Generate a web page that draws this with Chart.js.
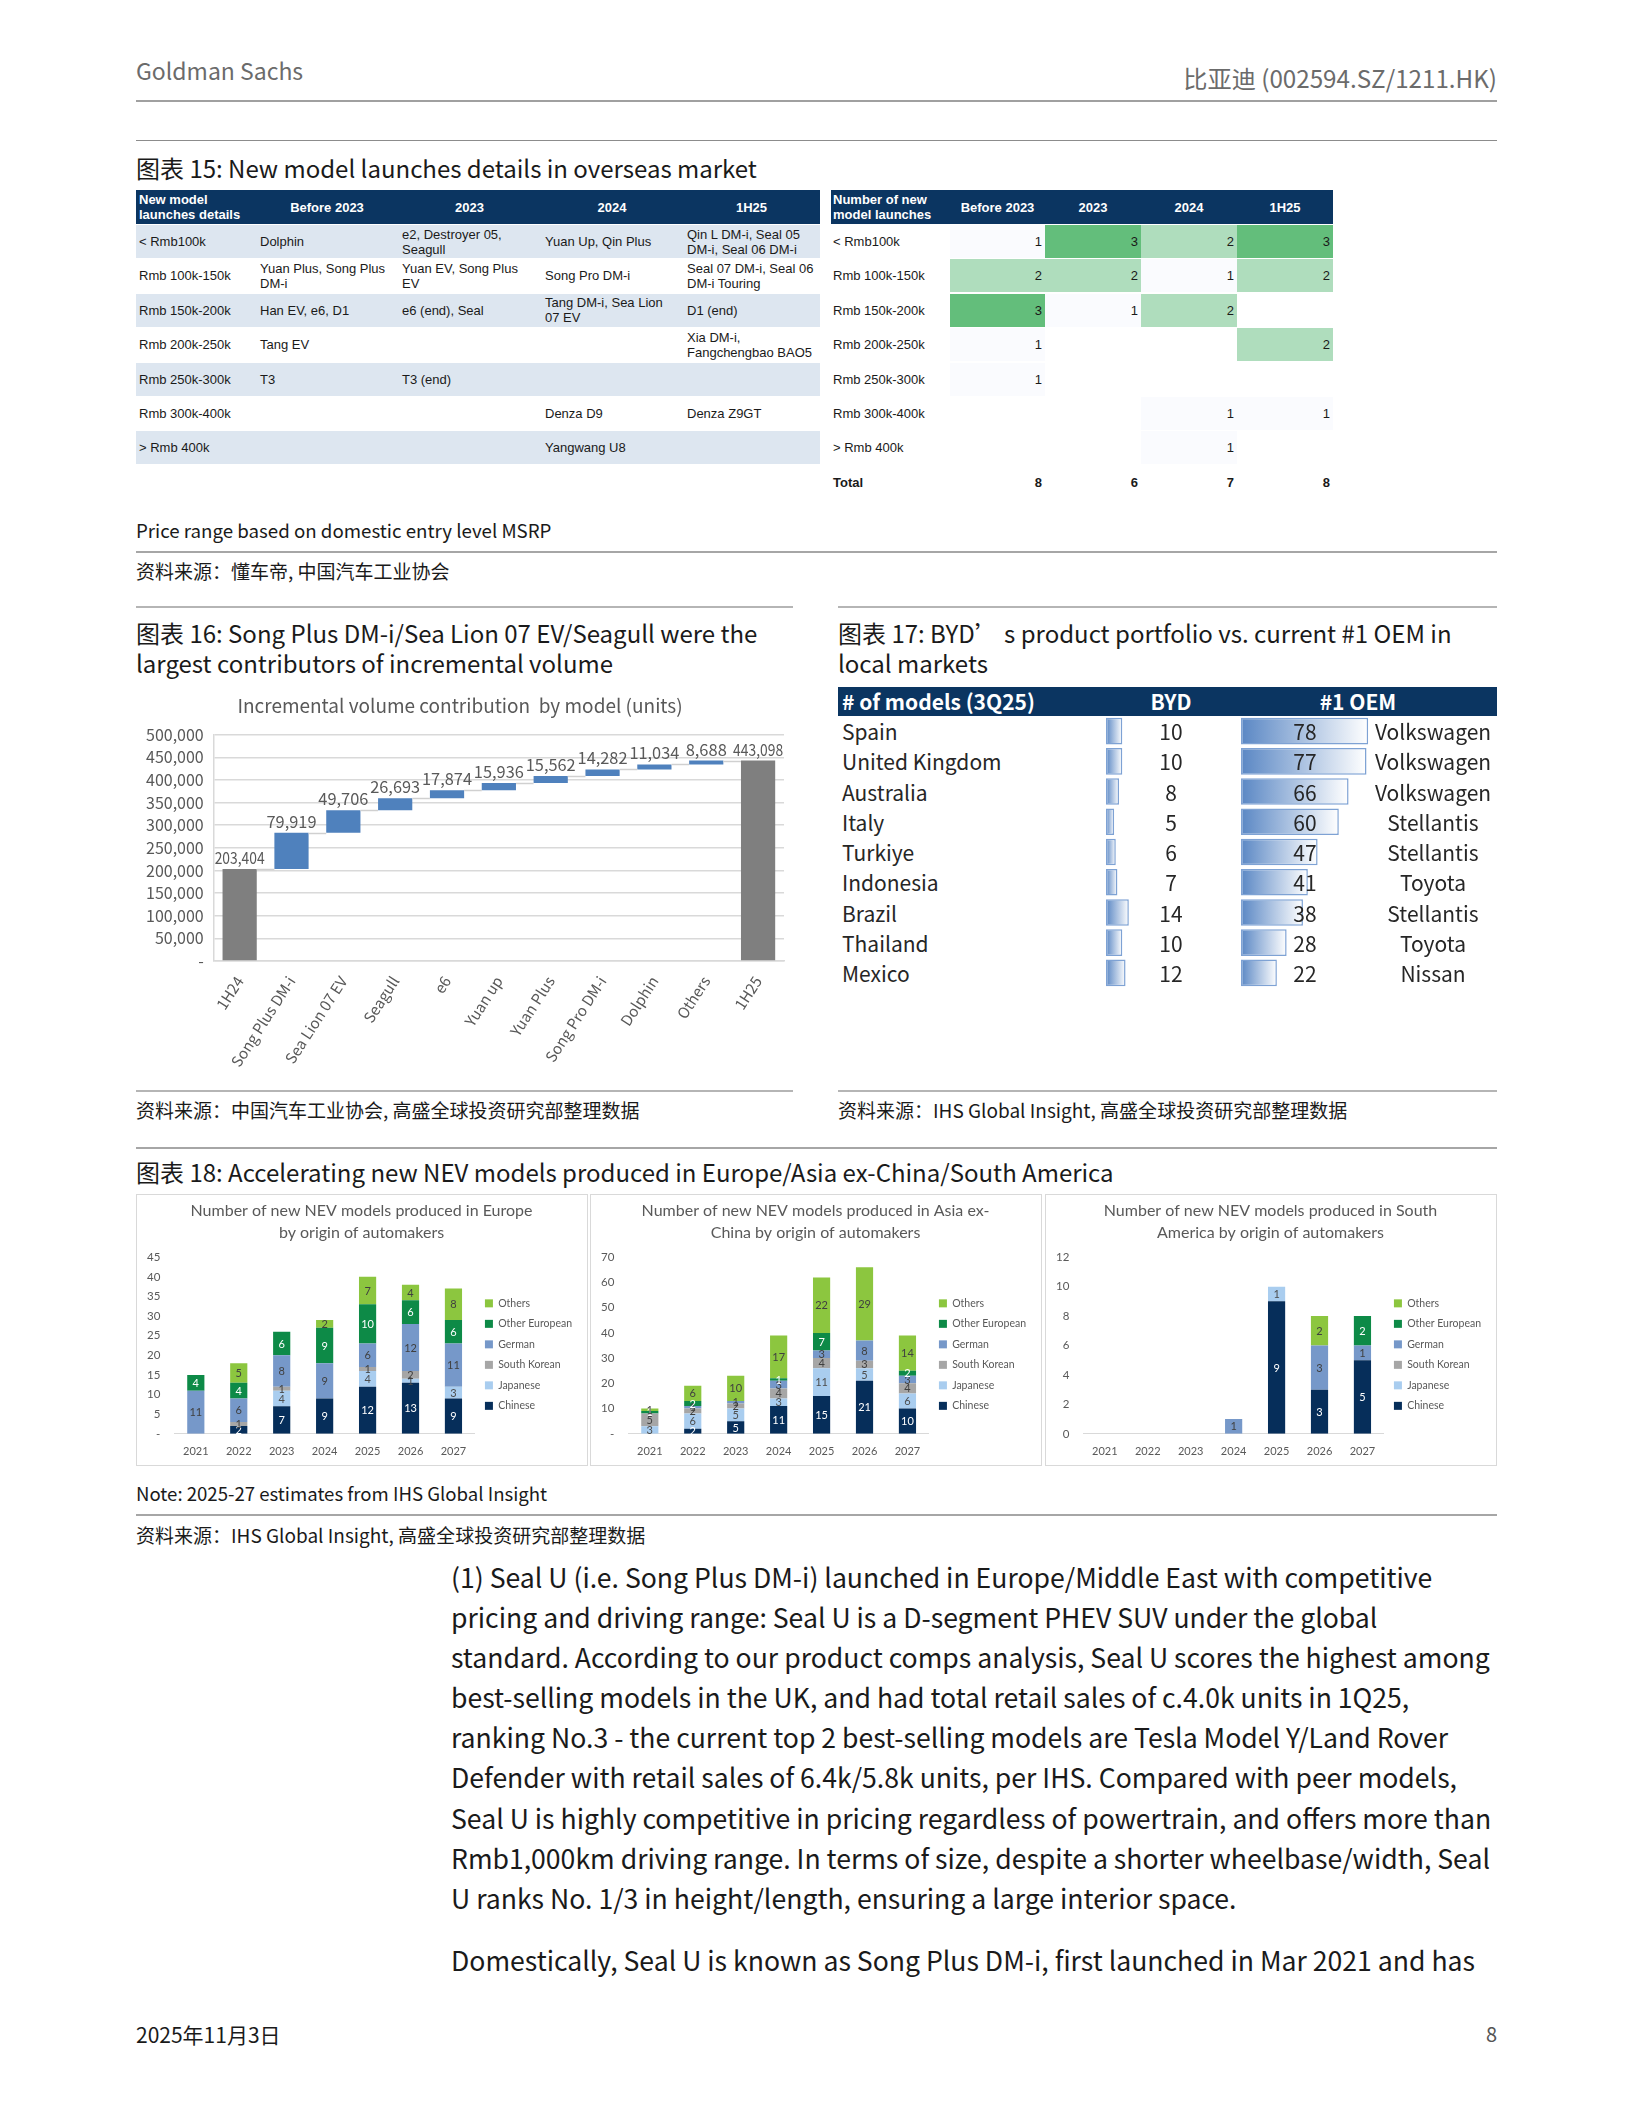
<!DOCTYPE html>
<html lang="zh">
<head>
<meta charset="utf-8">
<title>比亚迪 (002594.SZ/1211.HK) - 图表 15-18</title>
<script src="https://cdn.jsdelivr.net/npm/chart.js@4.4.1/dist/chart.umd.min.js"></script>
<style>
  body { margin:0; width:1632px; height:2112px; position:relative; background:#fff; overflow:hidden;
         font-family:'Noto Sans CJK SC','Noto Sans',sans-serif; color:#1a1a1a; }
  .t { position:absolute; white-space:nowrap; z-index:2; }
  .rule { position:absolute; height:0; }
  .cell { position:absolute; box-sizing:border-box; display:flex; align-items:center; white-space:pre;
          font-family:'Liberation Sans Narrow','Liberation Sans',Arial,sans-serif; font-size:13px; line-height:15px;
          padding:0 4px; color:#1a1a1a; }
  .panel { position:absolute; border:1px solid #d9d9d9; box-sizing:border-box; background:#fff; }
  canvas { display:block; }
  .abs { position:absolute; }
</style>
</head>
<body>

<!-- page header -->
<div class="t" style="left:136px;top:52px;font-size:23px;line-height:36px;color:#6b6b6b">Goldman Sachs</div>
<div class="t" style="right:135px;top:60px;font-size:24.2px;line-height:36px;color:#6b6b6b">比亚迪 (002594.SZ/1211.HK)</div>
<div class="rule" style="left:136px;top:100px;width:1361px;border-top:2px solid #a0a0a0"></div>
<div class="rule" style="left:136px;top:140px;width:1361px;border-top:1.5px solid #8c8c8c"></div>

<div class="t" style="left:136px;top:151px;font-size:24px;line-height:34px">图表 15: New model launches details in overseas market</div>
<div id="tblDetails" class="abs" style="left:0;top:0"></div>
<div id="tblCounts" class="abs" style="left:0;top:0"></div>
<div class="t" style="left:136px;top:515px;font-size:18.7px;line-height:30px">Price range based on domestic entry level MSRP</div>
<div class="rule" style="left:136px;top:551px;width:1361px;border-top:2px solid #a6a6a6"></div>
<div class="t" style="left:136px;top:556px;font-size:19px;line-height:30px">资料来源：懂车帝, 中国汽车工业协会</div>
<div class="rule" style="left:136px;top:606px;width:657px;border-top:2px solid #b5b5b5"></div>
<div class="rule" style="left:838px;top:606px;width:659px;border-top:2px solid #b5b5b5"></div>

<!-- 图表 16 -->
<div class="t" style="left:136px;top:618px;font-size:24px;line-height:30px">图表 16: Song Plus DM-i/Sea Lion 07 EV/Seagull were the</div>
<div class="t" style="left:136px;top:648px;font-size:24px;line-height:30px">largest contributors of incremental volume</div>
<div class="abs" style="left:136px;top:690px;width:660px;height:384px"><canvas id="waterfall"></canvas></div>

<!-- 图表 17 -->
<div class="t" style="left:838px;top:618px;font-size:24px;line-height:30px">图表 17: BYD’ s product portfolio vs. current #1 OEM in</div>
<div class="t" style="left:838px;top:648px;font-size:24px;line-height:30px">local markets</div>
<div class="abs" style="left:838px;top:687px;width:659px;height:29px;background:#0b3561"></div>
<div class="t" style="left:842px;top:686px;font-size:21px;line-height:30px;color:#fff;font-weight:bold"># of models (3Q25)</div>
<div class="t" style="left:1121px;width:100px;text-align:center;top:686px;font-size:21px;line-height:30px;color:#fff;font-weight:bold">BYD</div>
<div class="t" style="left:1298px;width:120px;text-align:center;top:686px;font-size:21px;line-height:30px;color:#fff;font-weight:bold">#1 OEM</div>
<div class="abs" style="left:1106px;top:716px;width:50px;height:272px"><canvas id="bydBars"></canvas></div>
<div class="abs" style="left:1241px;top:716px;width:140px;height:272px"><canvas id="oemBars"></canvas></div>
<div id="oemRows" class="abs" style="left:0;top:0"></div>

<div class="rule" style="left:136px;top:1090px;width:657px;border-top:2px solid #b5b5b5"></div>
<div class="rule" style="left:838px;top:1090px;width:659px;border-top:2px solid #b5b5b5"></div>
<div class="t" style="left:136px;top:1095px;font-size:19px;line-height:30px">资料来源：中国汽车工业协会, 高盛全球投资研究部整理数据</div>
<div class="t" style="left:838px;top:1095px;font-size:19px;line-height:30px">资料来源：IHS Global Insight, 高盛全球投资研究部整理数据</div>
<div class="rule" style="left:136px;top:1147px;width:1361px;border-top:2px solid #a6a6a6"></div>

<!-- 图表 18 -->
<div class="t" style="left:136px;top:1156px;font-size:24px;line-height:32px">图表 18: Accelerating new NEV models produced in Europe/Asia ex-China/South America</div>
<div class="panel" style="left:136px;top:1194px;width:452px;height:272px"><canvas id="nevEurope"></canvas></div>
<div class="panel" style="left:590px;top:1194px;width:452px;height:272px"><canvas id="nevAsia"></canvas></div>
<div class="panel" style="left:1045px;top:1194px;width:452px;height:272px"><canvas id="nevSouthAmerica"></canvas></div>
<div class="t" style="left:136px;top:1478px;font-size:18.6px;line-height:30px">Note: 2025-27 estimates from IHS Global Insight</div>
<div class="rule" style="left:136px;top:1514px;width:1361px;border-top:2px solid #a6a6a6"></div>
<div class="t" style="left:136px;top:1520px;font-size:19px;line-height:30px">资料来源：IHS Global Insight, 高盛全球投资研究部整理数据</div>

<!-- body text -->
<div class="t" style="left:451px;top:1557px;font-size:26.6px;line-height:40.1px;color:#1a1a1a">(1) Seal U (i.e. Song Plus DM-i) launched in Europe/Middle East with competitive<br>pricing and driving range: Seal U is a D-segment PHEV SUV under the global<br>standard. According to our product comps analysis, Seal U scores the highest among<br>best-selling models in the UK, and had total retail sales of c.4.0k units in 1Q25,<br>ranking No.3 - the current top 2 best-selling models are Tesla Model Y/Land Rover<br>Defender with retail sales of 6.4k/5.8k units, per IHS. Compared with peer models,<br>Seal U is highly competitive in pricing regardless of powertrain, and offers more than<br>Rmb1,000km driving range. In terms of size, despite a shorter wheelbase/width, Seal<br>U ranks No. 1/3 in height/length, ensuring a large interior space.</div>
<div class="t" style="left:451px;top:1940px;font-size:26.6px;line-height:40px;color:#1a1a1a">Domestically, Seal U is known as Song Plus DM-i, first launched in Mar 2021 and has</div>

<div class="t" style="left:136px;top:2019px;font-size:21px;line-height:30px">2025年11月3日</div>
<div class="t" style="right:135px;top:2019px;font-size:20px;line-height:30px;color:#555">8</div>

<script>
// ---------- 图表 15 data ----------
const priceBands = ['< Rmb100k', 'Rmb 100k-150k', 'Rmb 150k-200k', 'Rmb 200k-250k', 'Rmb 250k-300k', 'Rmb 300k-400k', '> Rmb 400k'];
const periods = ['Before 2023', '2023', '2024', '1H25'];
const launchesBefore2023 = ['Dolphin', 'Yuan Plus, Song Plus\nDM-i', 'Han EV, e6, D1', 'Tang EV', 'T3', '', ''];
const launches2023 = ['e2, Destroyer 05,\nSeagull', 'Yuan EV, Song Plus\nEV', 'e6 (end), Seal', '', 'T3 (end)', '', ''];
const launches2024 = ['Yuan Up, Qin Plus', 'Song Pro DM-i', 'Tang DM-i, Sea Lion\n07 EV', '', '', 'Denza D9', 'Yangwang U8'];
const launches1H25 = ['Qin L DM-i, Seal 05\nDM-i, Seal 06 DM-i', 'Seal 07 DM-i, Seal 06\nDM-i Touring', 'D1 (end)', 'Xia DM-i,\nFangchengbao BAO5', '', 'Denza Z9GT', ''];
const countsBefore2023 = [1, 2, 3, 1, 1, null, null];
const counts2023 = [3, 2, 1, null, null, null, null];
const counts2024 = [2, 1, 2, null, null, 1, 1];
const counts1H25 = [3, 2, null, 2, null, 1, null];

// ---------- 图表 16 data ----------
const waterfallLabels = ['1H24', 'Song Plus DM-i', 'Sea Lion 07 EV', 'Seagull', 'e6', 'Yuan up', 'Yuan Plus', 'Song Pro DM-i', 'Dolphin', 'Others', '1H25'];
const waterfallValues = [203404, 79919, 49706, 26693, 17874, 15936, 15562, 14282, 11034, 8688, 443098];
const waterfallTotals = [true, false, false, false, false, false, false, false, false, false, true];

// ---------- 图表 17 data ----------
const markets = ['Spain', 'United Kingdom', 'Australia', 'Italy', 'Turkiye', 'Indonesia', 'Brazil', 'Thailand', 'Mexico'];
const bydModels = [10, 10, 8, 5, 6, 7, 14, 10, 12];
const topOemModels = [78, 77, 66, 60, 47, 41, 38, 28, 22];
const topOems = ['Volkswagen', 'Volkswagen', 'Volkswagen', 'Stellantis', 'Stellantis', 'Toyota', 'Stellantis', 'Toyota', 'Nissan'];

// ---------- 图表 18 data ----------
const years = ['2021', '2022', '2023', '2024', '2025', '2026', '2027'];
const origins = ['Chinese', 'Japanese', 'South Korean', 'German', 'Other European', 'Others'];
const europeChinese = [0, 2, 7, 9, 12, 13, 9];
const europeJapanese = [0, 0, 4, 0, 4, 1, 3];
const europeKorean = [0, 1, 1, 0, 1, 2, 0];
const europeGerman = [11, 6, 8, 9, 6, 12, 11];
const europeOtherEuropean = [4, 4, 6, 9, 10, 6, 6];
const europeOthers = [0, 5, 0, 2, 7, 4, 8];
const asiaChinese = [0, 2, 5, 11, 15, 21, 10];
const asiaJapanese = [3, 6, 5, 3, 11, 5, 6];
const asiaKorean = [5, 2, 2, 4, 4, 3, 4];
const asiaGerman = [0, 1, 1, 3, 3, 8, 3];
const asiaOtherEuropean = [1, 2, 0, 1, 7, 0, 2];
const asiaOthers = [1, 6, 10, 17, 22, 29, 14];
const samChinese = [0, 0, 0, 0, 9, 3, 5];
const samJapanese = [0, 0, 0, 0, 1, 0, 0];
const samKorean = [0, 0, 0, 0, 0, 0, 0];
const samGerman = [0, 0, 0, 1, 0, 3, 1];
const samOtherEuropean = [0, 0, 0, 0, 0, 0, 2];
const samOthers = [0, 0, 0, 0, 0, 2, 0];

const originColors = ['#062e5a', '#a9cdef', '#a6a6a6', '#7698c9', '#0d8a47', '#8cc63f'];
const originTextColors = ['#ffffff', '#4d4d4d', '#404040', '#404040', '#ffffff', '#404040'];

// ---------- helpers ----------
function addCell(parent, x, y, w, h, text, style) {
    const d = document.createElement('div');
    d.className = 'cell';
    Object.assign(d.style, { left: x + 'px', top: y + 'px', width: w + 'px', height: h + 'px' }, style || {});
    d.textContent = text;
    parent.appendChild(d);
    return d;
}

// 图表 15 left table
(function () {
    const box = document.getElementById('tblDetails');
    const cols = [136, 256, 398, 541, 683, 820];
    const navy = '#0b3561';
    addCell(box, cols[0], 190, cols[5] - cols[0], 34, '', { background: navy });
    addCell(box, cols[0], 190, cols[1] - cols[0], 34, 'New model\nlaunches details', { color: '#fff', fontWeight: 'bold', paddingLeft: '3px' });
    periods.forEach((p, i) => addCell(box, cols[i + 1], 190, cols[i + 2] - cols[i + 1], 34, p,
        { color: '#fff', fontWeight: 'bold', justifyContent: 'center' }));
    const columns = [launchesBefore2023, launches2023, launches2024, launches1H25];
    priceBands.forEach((band, r) => {
        const y = 225 + r * 34.4;
        const bg = r % 2 === 0 ? '#dde6f0' : '#ffffff';
        addCell(box, cols[0], y, cols[5] - cols[0], 33, '', { background: bg });
        addCell(box, cols[0], y, cols[1] - cols[0], 33, band, { paddingLeft: '3px' });
        columns.forEach((col, c) => addCell(box, cols[c + 1], y, cols[c + 2] - cols[c + 1], 33, col[r]));
    });
})();

// 图表 15 right heat table
(function () {
    const box = document.getElementById('tblCounts');
    const cols = [831, 950, 1045, 1141, 1237, 1333];
    const navy = '#0b3561';
    addCell(box, cols[0], 190, cols[5] - cols[0], 34, '', { background: navy });
    addCell(box, cols[0], 190, cols[1] - cols[0], 34, 'Number of new\nmodel launches', { color: '#fff', fontWeight: 'bold', paddingLeft: '2px' });
    periods.forEach((p, i) => addCell(box, cols[i + 1], 190, cols[i + 2] - cols[i + 1], 34, p,
        { color: '#fff', fontWeight: 'bold', justifyContent: 'center' }));
    const columns = [countsBefore2023, counts2023, counts2024, counts1H25];
    const lo = [250, 251, 254], hi = [99, 190, 123];
    function heat(v) {
        if (v == null) return '#ffffff';
        const t = (v - 1) / 2;
        return 'rgb(' + lo.map((a, k) => Math.round(a + (hi[k] - a) * t)).join(',') + ')';
    }
    priceBands.forEach((band, r) => {
        const y = 225 + r * 34.4;
        addCell(box, cols[0], y, cols[1] - cols[0], 33, band, { paddingLeft: '2px' });
        columns.forEach((col, c) => addCell(box, cols[c + 1], y, cols[c + 2] - cols[c + 1], 33,
            col[r] == null ? '' : String(col[r]), { background: heat(col[r]), justifyContent: 'flex-end', paddingRight: '3px' }));
    });
    const yT = 225 + 7 * 34.4;
    addCell(box, cols[0], yT, cols[1] - cols[0], 33, 'Total', { fontWeight: 'bold', paddingLeft: '2px' });
    columns.forEach((col, c) => {
        const total = col.reduce((s, v) => s + (v || 0), 0);
        addCell(box, cols[c + 1], yT, cols[c + 2] - cols[c + 1], 33, String(total),
            { fontWeight: 'bold', justifyContent: 'flex-end', paddingRight: '3px' });
    });
})();

// 图表 17 row texts
(function () {
    const box = document.getElementById('oemRows');
    markets.forEach((m, i) => {
        const yc = 731 + i * 30.25;
        const mk = (html, css) => {
            const d = document.createElement('div');
            d.className = 't';
            d.style.cssText = 'top:' + (yc - 15) + 'px;font-size:21px;line-height:30px;color:#262626;' + css;
            d.textContent = html;
            box.appendChild(d);
        };
        mk(m, 'left:842px;');
        mk(String(bydModels[i]), 'left:1131px;width:80px;text-align:center;');
        mk(String(topOemModels[i]), 'left:1265px;width:80px;text-align:center;');
        mk(topOems[i], 'left:1373px;width:120px;text-align:center;');
    });
})();

Chart.defaults.animation = false;
Chart.defaults.responsive = true;
Chart.defaults.maintainAspectRatio = false;

// ---------- 图表 16 waterfall ----------
const floating = [];
const levels = [];
let running = 0;
waterfallValues.forEach((v, i) => {
    if (waterfallTotals[i]) { floating.push([0, v]); running = v; }
    else { floating.push([running, running + v]); running += v; }
    levels.push(running);
});

const waterfallExtras = {
    id: 'waterfallExtras',
    afterDatasetsDraw(chart) {
        const c = chart.ctx;
        const meta = chart.getDatasetMeta(0);
        const ys = chart.scales.y;
        c.save();
        c.strokeStyle = '#d0d0d0';
        c.lineWidth = 1.5;
        for (let i = 0; i < meta.data.length - 1; i++) {
            const a = meta.data[i], b = meta.data[i + 1];
            const y = Math.round(ys.getPixelForValue(levels[i])) + 0.5;
            c.beginPath();
            c.moveTo(a.x + a.width / 2, y);
            c.lineTo(b.x - b.width / 2, y);
            c.stroke();
        }
        c.fillStyle = '#595959';
        c.font = "16.5px 'Noto Sans CJK SC', 'Noto Sans', sans-serif";
        c.textAlign = 'center';
        c.textBaseline = 'bottom';
        meta.data.forEach((el, i) => {
            const top = Math.min(el.y, el.base);
            c.fillText(waterfallValues[i].toLocaleString('en-US'), el.x, top - 3, 50);
        });
        c.restore();
    }
};

new Chart(document.getElementById('waterfall'), {
    type: 'bar',
    data: {
        labels: waterfallLabels,
        datasets: [{
            data: floating,
            backgroundColor: waterfallTotals.map(t => t ? '#7f7f7f' : '#4f81bd'),
            borderWidth: 0,
            barPercentage: 0.66,
            categoryPercentage: 1
        }]
    },
    options: {
        layout: { padding: { left: 0, right: 12, top: 0, bottom: 0 } },
        plugins: {
            legend: { display: false },
            tooltip: { enabled: false },
            title: {
                display: true,
                text: 'Incremental volume contribution  by model (units)',
                color: '#595959',
                font: { family: "'Noto Sans CJK SC', 'Noto Sans', sans-serif", size: 19, weight: 'normal' },
                padding: { top: 4, bottom: 18 }
            }
        },
        scales: {
            x: {
                grid: { display: false },
                border: { color: '#d9d9d9', width: 1.5 },
                ticks: {
                    color: '#595959', minRotation: 57, maxRotation: 57, padding: 4,
                    font: { family: "'Noto Sans CJK SC', 'Noto Sans', sans-serif", size: 15 }
                }
            },
            y: {
                min: 0, max: 500000,
                grid: { color: '#d9d9d9', lineWidth: 1.5, drawTicks: false },
                border: { color: '#d9d9d9', width: 1.5 },
                ticks: {
                    stepSize: 50000, color: '#595959', padding: 10,
                    font: { family: "'Noto Sans CJK SC', 'Noto Sans', sans-serif", size: 16 },
                    callback: v => v === 0 ? '-' : v.toLocaleString('en-US')
                }
            }
        }
    },
    plugins: [waterfallExtras]
});

// ---------- 图表 17 data bars ----------
const pxPerModel = 1.63;
function dataBarChart(id, values, widthPx) {
    return new Chart(document.getElementById(id), {
        type: 'bar',
        data: {
            labels: markets,
            datasets: [{
                data: values,
                backgroundColor: ctx => {
                    const chart = ctx.chart;
                    const xs = chart.scales.x;
                    const fallback = '#9db8de';
                    if (!xs || ctx.raw == null) return fallback;
                    const x0 = xs.getPixelForValue(0);
                    const x1 = xs.getPixelForValue(ctx.raw);
                    if (!isFinite(x0) || !isFinite(x1) || x1 === x0) return fallback;
                    const g = chart.ctx.createLinearGradient(x0, 0, x1, 0);
                    g.addColorStop(0, '#5a87c4');
                    g.addColorStop(1, '#ffffff');
                    return g;
                },
                borderColor: '#7ea2d4',
                borderWidth: 1.5,
                borderSkipped: false,
                barPercentage: 0.88,
                categoryPercentage: 1
            }]
        },
        options: {
            indexAxis: 'y',
            plugins: { legend: { display: false }, tooltip: { enabled: false } },
            scales: {
                x: { display: false, min: 0, max: widthPx / pxPerModel },
                y: { display: false }
            }
        }
    });
}
dataBarChart('bydBars', bydModels, 50);
dataBarChart('oemBars', topOemModels, 140);

// ---------- 图表 18 stacked bars ----------
const segLabels = {
    id: 'segLabels',
    afterDatasetsDraw(chart) {
        const c = chart.ctx;
        c.save();
        c.font = "11px Lato, 'Noto Sans', sans-serif";
        c.textAlign = 'center';
        c.textBaseline = 'middle';
        chart.data.datasets.forEach((ds, i) => {
            const meta = chart.getDatasetMeta(i);
            if (meta.hidden) return;
            meta.data.forEach((el, j) => {
                const v = ds.data[j];
                if (!v) return;
                c.fillStyle = originTextColors[i];
                c.fillText(String(v), el.x, (el.y + el.base) / 2 + 0.5);
            });
        });
        c.restore();
    }
};

function nevChart(id, titleLines, series, yMax, yStep, dashZero) {
    return new Chart(document.getElementById(id), {
        type: 'bar',
        data: {
            labels: years,
            datasets: series.map((s, i) => ({
                label: origins[i],
                data: s,
                backgroundColor: originColors[i],
                borderWidth: 0,
                barPercentage: 0.8,
                categoryPercentage: 0.5
            }))
        },
        options: {
            layout: { padding: { left: 4, right: 5, top: 0, bottom: 4 } },
            plugins: {
                tooltip: { enabled: false },
                title: {
                    display: true, text: titleLines, color: '#595959',
                    font: { family: "Lato, 'Noto Sans', sans-serif", size: 16, weight: 'normal', lineHeight: 1.35 },
                    padding: { top: 5, bottom: 14 }
                },
                legend: {
                    position: 'right', reverse: true,
                    title: { display: true, text: ' ', font: { size: 11 }, padding: { top: 0, bottom: 40 } },
                    labels: {
                        boxWidth: 8, boxHeight: 8, padding: 10, color: '#595959',
                        font: { family: "Lato, 'Noto Sans', sans-serif", size: 10.5 }
                    }
                }
            },
            scales: {
                x: {
                    stacked: true,
                    grid: { display: false },
                    border: { color: '#d9d9d9' },
                    ticks: { color: '#595959', font: { family: "Lato, 'Noto Sans', sans-serif", size: 11 } }
                },
                y: {
                    stacked: true, min: 0, max: yMax,
                    grid: { display: false },
                    border: { display: false },
                    ticks: {
                        stepSize: yStep, color: '#595959', padding: 6,
                        font: { family: "Lato, 'Noto Sans', sans-serif", size: 11.5 },
                        callback: v => (v === 0 && dashZero) ? '-' : v
                    }
                }
            }
        },
        plugins: [segLabels]
    });
}

nevChart('nevEurope', ['Number of new NEV models produced in Europe', 'by origin of automakers'],
    [europeChinese, europeJapanese, europeKorean, europeGerman, europeOtherEuropean, europeOthers], 45, 5, true);
nevChart('nevAsia', ['Number of new NEV models produced in Asia ex-', 'China by origin of automakers'],
    [asiaChinese, asiaJapanese, asiaKorean, asiaGerman, asiaOtherEuropean, asiaOthers], 70, 10, true);
nevChart('nevSouthAmerica', ['Number of new NEV models produced in South', 'America by origin of automakers'],
    [samChinese, samJapanese, samKorean, samGerman, samOtherEuropean, samOthers], 12, 2, false);
</script>
</body>
</html>
